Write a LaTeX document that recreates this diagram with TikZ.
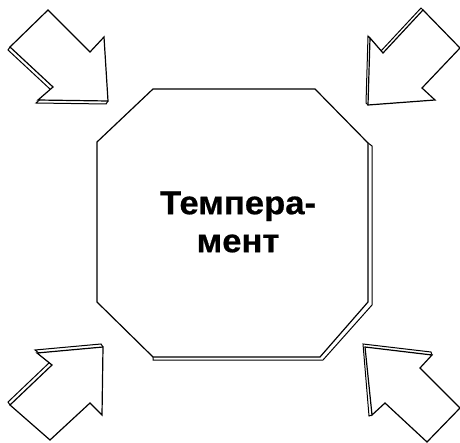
\documentclass[tikz,border=0pt]{standalone}
\usepackage{fontspec}
\newfontfamily\labelfont[FakeStretch=1.05,FakeBold=0.6]{Liberation Sans}
\begin{document}
\begin{tikzpicture}[x=1pt,y=-1pt,
  outline/.style={draw=black,line width=1.2pt,line join=miter,fill=white},
  edge/.style={draw=black,line width=1pt,line join=miter},
  title/.style={font=\labelfont\bfseries\fontsize{33}{38}\selectfont,align=center,inner sep=0pt}]
\useasboundingbox (0,0) rectangle (460,443);
% octagon shadow edges
\draw[edge] (368,143) -- (372,146) -- (372,305) -- (323,360) -- (153,360) -- (153,357);
% octagon
\draw[outline] (153,89) -- (315,89) -- (368,143) -- (368,302) -- (320,357) -- (153,357) -- (97,302) -- (97,142) -- cycle;
\node[title] (temp) at (238,222) {Темпера-\\мент};
% top-left arrow (points down-right)
\draw[edge] (10,47) -- (8,50) -- (51,90) -- (36,103) -- (106,104) -- (108,101);
\draw[outline] (108,101) -- (38,100) -- (53,87) -- (10,47) -- (48,10) -- (90,52) -- (104,37) -- cycle;
% top-right arrow (points down-left)
\draw[edge] (423,10) -- (421,8) -- (381,51) -- (368,36) -- (366,103) -- (368,105);
\draw[outline] (368,105) -- (435,100) -- (422,88) -- (460,48) -- (423,10) -- (383,53) -- (370,38) -- cycle;
% bottom-left arrow (points up-right)
\draw[edge] (10,405) -- (8,402) -- (50,362) -- (35,350) -- (101,344) -- (103,347);
\draw[outline] (103,347) -- (37,353) -- (52,365) -- (10,405) -- (50,440) -- (90,403) -- (102,415) -- cycle;
% bottom-right arrow (points up-left)
\draw[edge] (432,355) -- (431,352) -- (363,344) -- (369,416) -- (372,415);
\draw[outline] (365,347) -- (432,355) -- (420,368) -- (460,408) -- (427,442) -- (385,403) -- (372,415) -- cycle;
\end{tikzpicture}
\end{document}
